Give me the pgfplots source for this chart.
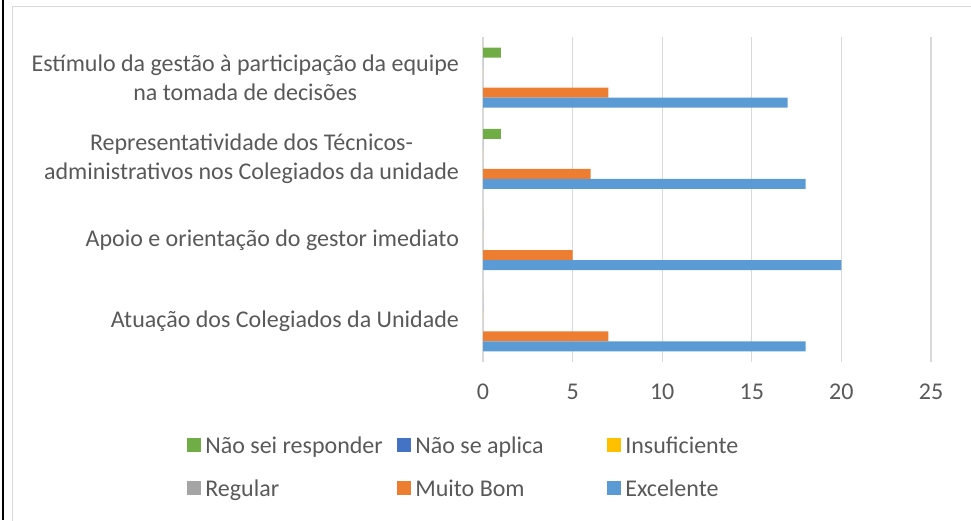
\documentclass[border=0pt]{standalone}
\usepackage{pgfplots}
\pgfplotsset{compat=1.18}
\usepackage{fontspec}
\setmainfont{Carlito}
\definecolor{cExc}{HTML}{5B9BD5}
\definecolor{cMB}{HTML}{ED7D31}
\definecolor{cReg}{HTML}{A5A5A5}
\definecolor{cIns}{HTML}{FFC000}
\definecolor{cNSA}{HTML}{4472C4}
\definecolor{cNSR}{HTML}{70AD47}
\definecolor{txt}{HTML}{595959}
\definecolor{gridc}{HTML}{D9D9D9}
\pgfplotsset{sqlegend/.style={legend image code/.code={\fill[##1] (0pt,-6.75pt) rectangle (13.5pt,6.75pt);}}}
\newcommand{\legtxt}[1]{\makebox[187.5pt][l]{\rule[-7pt]{0pt}{26pt}#1}}
\begin{document}
\begin{tikzpicture}
\useasboundingbox (0,0) rectangle (971pt,-520pt);
\draw[line width=2pt] (3pt,0) -- (3pt,-520pt);
\draw[gridc, line width=1.3pt] (12.5pt,-521pt) -- (12.5pt,-6.5pt) -- (972pt,-6.5pt);
\begin{axis}[
  at={(483pt,-362pt)}, anchor=south west,
  scale only axis, width=448pt, height=325pt,
  xmin=0, xmax=25, ymin=-0.5, ymax=3.5,
  xtick={0,5,...,25},
  ytick={0,1,2,3},
  yticklabels={Atuação dos Colegiados da Unidade, Apoio e orientação do gestor imediato, {Representatividade dos Técnicos-\\administrativos nos Colegiados da unidade}, {Estímulo da gestão à participação da equipe\\na tomada de decisões}},
  axis line style={draw=none},
  major tick length=0pt,
  xmajorgrids, grid style={gridc, line width=1.3pt},
  tick label style={font=\fontsize{24}{29}\selectfont, text=txt},
  yticklabel style={align=center, xshift=-20.5pt},
  xticklabel style={yshift=-18.5pt},
  /pgf/number format/assume math mode=true,
  every axis plot/.append style={xbar, bar width=0.123, draw=none, sqlegend},
  legend columns=3,
  legend style={draw=none, fill=none, at={(0,0)}, anchor=north west,
    xshift=-295.7pt, yshift=-70.6pt, inner sep=0pt, outer sep=0pt,
    column sep=0pt, row sep=18.8pt,
    font=\fontsize{24}{28}\selectfont, text=txt,
    nodes={inner xsep=4.5pt, inner ysep=2pt}},
]
\addplot[fill=cNSR, bar shift=0.3075] coordinates {(0,0) (0,1) (1,2) (1,3)};
\addlegendentry{\legtxt{Não sei responder}}
\addplot[fill=cNSA, bar shift=0.1845] coordinates {(0,0) (0,1) (0,2) (0,3)};
\addlegendentry{\legtxt{Não se aplica}}
\addplot[fill=cIns, bar shift=0.0615] coordinates {(0,0) (0,1) (0,2) (0,3)};
\addlegendentry{\legtxt{Insuficiente}}
\addplot[fill=cReg, bar shift=-0.0615] coordinates {(0,0) (0,1) (0,2) (0,3)};
\addlegendentry{\legtxt{Regular}}
\addplot[fill=cMB, bar shift=-0.1845] coordinates {(7,0) (5,1) (6,2) (7,3)};
\addlegendentry{\legtxt{Muito Bom}}
\addplot[fill=cExc, bar shift=-0.3075] coordinates {(18,0) (20,1) (18,2) (17,3)};
\addlegendentry{\legtxt{Excelente}}
\end{axis}
\end{tikzpicture}
\end{document}
